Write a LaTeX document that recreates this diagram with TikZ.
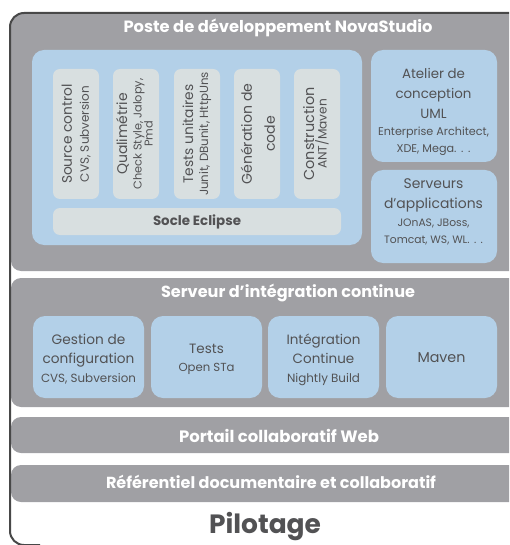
\documentclass[tikz,border=0pt]{standalone}
\usepackage{fontspec}
\setmainfont{Poppins}
\definecolor{panelgray}{RGB}{160,160,164}
\definecolor{lightblue}{RGB}{179,208,232}
\definecolor{boxgray}{RGB}{216,223,224}
\definecolor{txt}{RGB}{82,82,84}
\definecolor{outlinecol}{RGB}{72,72,72}
\newlength\fitlen
% set a font size such that the sample text #2 is #1 pt wide; #3 = baselineskip
\newcommand\fitfont[3]{\settowidth\fitlen{\fontsize{10}{12}\selectfont #2}%
  \pgfmathsetmacro\fitsz{10*#1/\fitlen}\xdef\curfs{\fitsz}\fontsize{\fitsz}{#3}\selectfont}
\newcommand\usefs{\fontsize{\curfs}{12}\selectfont}
\newcommand\fitline[2]{{\fitfont{#1}{#2}{12}#2}}
\newcommand\wdots{\makebox[1.45em][s]{.\hfil.\hfil.}}
\begin{document}
\begin{tikzpicture}[x=1pt,y=-1pt,
  panel/.style={fill=panelgray, rounded corners=10pt, inner sep=0pt},
  bigblue/.style={fill=lightblue, rounded corners=12pt, inner sep=0pt},
  bluebox/.style={fill=lightblue, rounded corners=12pt, inner sep=0pt},
  toolbox/.style={fill=boxgray, rounded corners=7pt, inner sep=0pt},
  ptitle/.style={text=white, inner sep=0pt},
  btext/.style={text=txt, inner sep=0pt, align=center},
  vtext/.style={text=txt, inner sep=0pt, align=center, rotate=90}]
\useasboundingbox (0,0) rectangle (509,545);
\clip (0,0) rectangle (509,545);
% panels
\node[panel, minimum width=509pt, minimum height=257pt] (poste) at (265.5,142.5) {};
\node[panel, minimum width=509pt, minimum height=129pt] (serveur) at (265.5,342.5) {};
\node[panel, minimum width=509pt, minimum height=36pt] (portail) at (265.5,435) {};
\node[panel, minimum width=509pt, minimum height=37pt] (referentiel) at (265.5,483.5) {};
% outline
\draw[outlinecol, line width=2pt, rounded corners=14pt] (530,13) -- (10,13) -- (10,545) -- (40,545);
% titles
\node[ptitle, font=\bfseries\fitfont{309}{Poste de développement NovaStudio}{18}] (tposte) at (278,28) {Poste de développement NovaStudio};
\node[ptitle, font=\bfseries\fitfont{254}{Serveur d’intégration continue}{18}] (tserveur) at (288,293) {Serveur d’intégration continue};
\node[ptitle, font=\bfseries\fitfont{200}{Portail collaboratif Web}{18}] (tportail) at (279,436) {Portail collaboratif Web};
\node[ptitle, font=\bfseries\fitfont{330}{Référentiel documentaire et collaboratif}{18}] (tref) at (271,482) {Référentiel documentaire et collaboratif};
\node[text=txt, inner sep=0pt, font=\bfseries\fitfont{112}{Pilotage}{30}] (pilotage) at (265,527) {Pilotage};
% eclipse block
\node[bigblue, minimum width=330pt, minimum height=195pt] (eclipse) at (197,147.5) {};
\node[toolbox, minimum width=46pt, minimum height=130pt] (src) at (76,134) {};
\node[toolbox, minimum width=46pt, minimum height=130pt] (qual) at (136,134) {};
\node[toolbox, minimum width=46pt, minimum height=130pt] (tests) at (197,134) {};
\node[toolbox, minimum width=46pt, minimum height=130pt] (gen) at (257,134) {};
\node[toolbox, minimum width=46pt, minimum height=130pt] (constr) at (317,134) {};
\node[toolbox, minimum width=288pt, minimum height=27pt] (socle) at (197,221.5) {};
\node[vtext, font=\fitfont{100}{Source control}{17}] (srct) at (src.center) {Source control\\\fitline{96}{CVS, Subversion}};
\node[vtext, font=\fitfont{82}{Qualimétrie}{15}] (qualt) at (134.5,134) {Qualimétrie\\[-0.5pt]{\fitfont{111}{Check Style, Jalopy,}{12}Check Style, Jalopy,}\\[-4pt]{\usefs Pmd}};
\node[vtext, font=\fitfont{99}{Tests unitaires}{15}] (testst) at (tests.center) {Tests unitaires\\\fitline{124}{Junit, DBunit, HttpUns}};
\node[vtext, font=\fitfont{101}{Génération de}{23}] (gent) at (258,134) {Génération de\\code};
\node[vtext, font=\fitfont{93}{Construction}{12.5}] (constrt) at (316,134) {Construction\\\fitline{70}{ANT/Maven}};
\node[btext, font=\bfseries\fitfont{88}{Socle Eclipse}{15}] (soclet) at (197,222) {Socle Eclipse};
% right boxes
\node[bluebox, minimum width=126pt, minimum height=112pt] (atelier) at (434,106) {};
\node[bluebox, minimum width=126pt, minimum height=93pt] (serveurs) at (434,216.5) {};
\node[btext, font=\fitfont{76}{conception}{20}] (ateliert) at (433.5,111.5) {Atelier de\\conception\\UML\\[-3pt]{\fitfont{111}{Enterprise Architect,}{12}Enterprise Architect,}\\[-3pt]{\usefs XDE, Mega\wdots}};
\node[btext, font=\fitfont{99}{d’applications}{20}] (serveurst) at (433.5,212) {Serveurs\\d’applications\\[-2pt]{\fitfont{72}{JOnAS, JBoss,}{12}JOnAS, JBoss,}\\[-3pt]{\usefs Tomcat, WS, WL\wdots}};
% integration boxes
\node[bluebox, minimum width=111pt, minimum height=82pt] (gestion) at (88.5,357) {};
\node[bluebox, minimum width=111pt, minimum height=82pt] (testsci) at (206.5,357) {};
\node[bluebox, minimum width=111pt, minimum height=82pt] (integ) at (323.5,357) {};
\node[bluebox, minimum width=111pt, minimum height=82pt] (maven) at (441.5,357) {};
\node[btext, font=\fitfont{92}{configuration}{19}] (gestiont) at (88.5,359) {Gestion de\\configuration\\\fitline{95}{CVS, Subversion}};
\node[btext, font=\fitfont{74}{Intégration}{18}] (testscit) at (206.5,359.5) {Tests\\\fitline{56}{Open STa}};
\node[btext, font=\fitfont{74}{Intégration}{19}] (integt) at (323.5,359.5) {Intégration\\Continue\\\fitline{73}{Nightly Build}};
\node[btext, font=\fitfont{48}{Maven}{19}] (mavent) at (441.5,358) {Maven};
\end{tikzpicture}
\end{document}
